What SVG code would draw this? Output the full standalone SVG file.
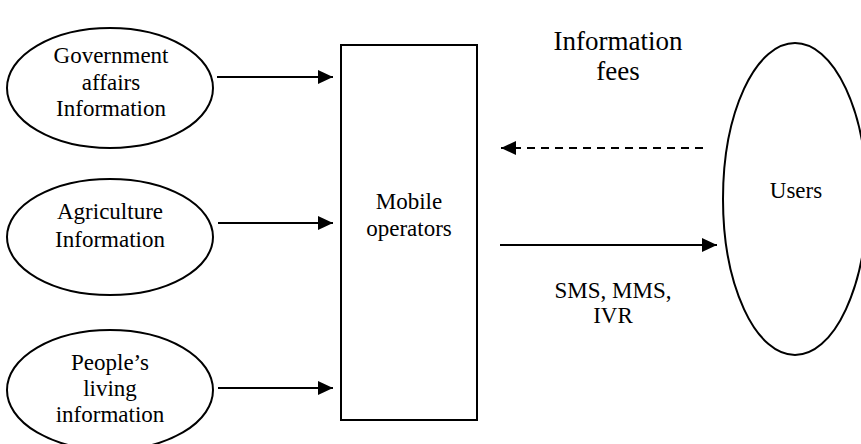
<svg xmlns="http://www.w3.org/2000/svg" width="861" height="444" viewBox="0 0 861 444">
<style>
.shape{fill:#fff;stroke:#000;stroke-width:2}
text{font-family:'Liberation Serif','Times New Roman','DejaVu Serif',serif;font-size:23px;fill:#000;text-anchor:middle}
.big{font-size:27px}
.c{stroke:#000;stroke-width:2;fill:none}
.dash{stroke-dasharray:8,6}
</style>
<defs>
<marker id="ah" viewBox="0 0 15 14" refX="15" refY="7" markerWidth="15" markerHeight="14" markerUnits="userSpaceOnUse" orient="auto">
<path d="M0,0 L15,7 L0,14 Z" fill="#000"/>
</marker>
</defs>
<rect width="861" height="444" fill="#fff"/>
<g id="gov">
<ellipse class="shape" cx="110" cy="88" rx="103" ry="60"/>
<text x="111" y="63">Government</text>
<text x="111" y="90">affairs</text>
<text x="111" y="116">Information</text>
</g>
<g id="agri">
<ellipse class="shape" cx="110" cy="237" rx="103" ry="58"/>
<text x="110" y="219">Agriculture</text>
<text x="110" y="247">Information</text>
</g>
<g id="people">
<ellipse class="shape" cx="110" cy="390" rx="103" ry="60"/>
<text x="110" y="370">People’s</text>
<text x="110" y="396">living</text>
<text x="110" y="422">information</text>
</g>
<g id="operators">
<rect class="shape" x="341" y="45" width="136" height="375"/>
<text x="409" y="209">Mobile</text>
<text x="409" y="236">operators</text>
</g>
<g id="users">
<ellipse class="shape" cx="795" cy="199" rx="72" ry="156"/>
<text x="796" y="198">Users</text>
</g>
<g id="connectors">
<line class="c" x1="217" y1="77" x2="333" y2="77" marker-end="url(#ah)"/>
<line class="c" x1="218" y1="223" x2="333" y2="223" marker-end="url(#ah)"/>
<line class="c" x1="218" y1="388" x2="333" y2="388" marker-end="url(#ah)"/>
<line class="c dash" x1="703" y1="148" x2="501" y2="148" marker-end="url(#ah)"/>
<line class="c" x1="500" y1="245" x2="717" y2="245" marker-end="url(#ah)"/>
<text class="big" x="618" y="50">Information</text>
<text class="big" x="618" y="80">fees</text>
<text x="613" y="298">SMS, MMS,</text>
<text x="613" y="323">IVR</text>
</g>
</svg>
